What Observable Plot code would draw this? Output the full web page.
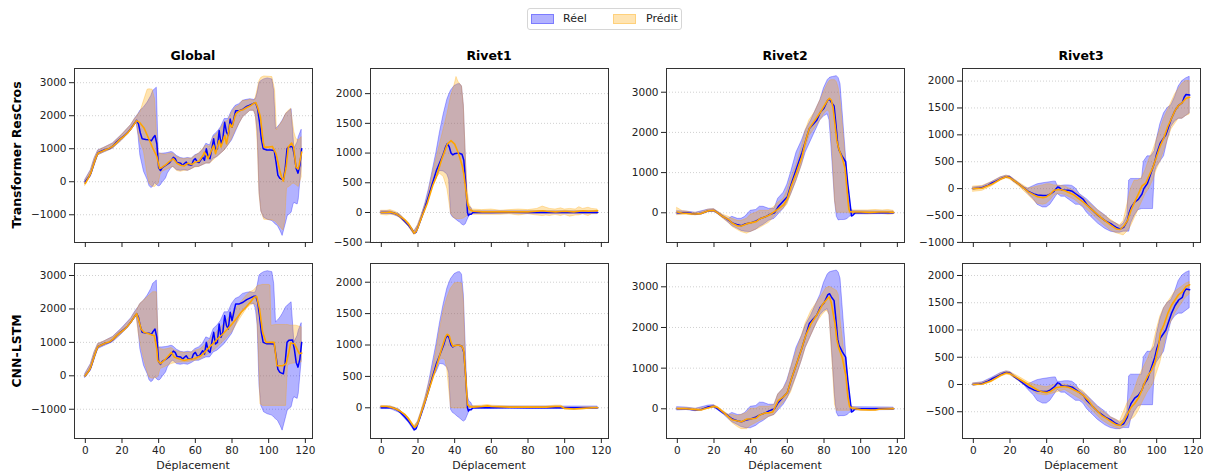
<!DOCTYPE html>
<html><head><meta charset="utf-8">
<script src="https://cdn.jsdelivr.net/npm/d3@7"></script>
<script src="https://cdn.jsdelivr.net/npm/@observablehq/plot@0.6"></script>
<style>
body{margin:0;background:#fff;font-family:"DejaVu Sans",sans-serif;}
#fig{position:relative;width:1208px;height:474px;background:#fff;overflow:hidden;}
.abs{position:absolute;}
.title{font-weight:bold;font-size:12.5px;text-align:center;color:#000;}
.rowlab{font-weight:bold;font-size:12.5px;text-align:center;color:#000;width:220px;line-height:16px;transform:rotate(-90deg);}
.xlab{font-size:11px;text-align:center;color:#222;}
#legend{left:527px;top:8px;width:155px;height:22px;box-sizing:border-box;border:1px solid #d6d6d6;border-radius:3px;font-size:11px;color:#222;}
.sw{position:absolute;top:5px;width:23px;height:10px;box-sizing:border-box;}
</style></head>
<body><div id="fig"></div>
<script>
// ---------- data ----------
const columns = ["Global","Rivet1","Rivet2","Rivet3"];
const models = ["Transformer ResCros","CNN-LSTM"];
const xTicks = [0,20,40,60,80,100,120];
const yTickCandidates = [
  [-1000,0,1000,2000,3000],
  [-500,0,500,1000,1500,2000],
  [0,1000,2000,3000],
  [-1000,-500,0,500,1000,1500,2000]
];
const legendLabels = ["Réel","Prédit"];

// Global
const realMeanGlobal = [[0,0],[2,150],[3,250],[4,420],[5,600],[6,750],[7,880],[9,930],[11,980],[13,1000],[15,1080],[17,1200],[19,1300],[21,1380],[23,1480],[25,1620],[27,1780],[28,1860],[29,1750],[30,1480],[31,1300],[33,1280],[35,1270],[36,1240],[37,1330],[38,1400],[39,1150],[40,420],[41,340],[42,430],[44,500],[46,580],[48,740],[49,700],[50,580],[52,560],[53,500],[55,600],[56,520],[58,500],[59,650],[60,700],[61,600],[62,580],[64,750],[65,650],[66,1000],[67,750],[68,700],[69,1000],[70,1300],[71,950],[72,1000],[73,1550],[74,1150],[75,1300],[76,1800],[77,1500],[78,1400],[79,1900],[80,1650],[81,1900],[82,2150],[84,2150],[86,2200],[88,2280],[90,2330],[92,2380],[93,2380],[94,2200],[95,1800],[96,1300],[97,1000],[99,960],[101,960],[103,950],[104,600],[105,200],[106,110],[107,80],[108,60],[109,400],[110,1000],[111,1060],[113,1070],[114,800],[115,400],[116,260],[117,500],[118,1000]];
const realBandGlobal = [[0,-60,60],[3,150,350],[5,480,700],[7,800,950],[10,880,1020],[15,1000,1160],[20,1250,1420],[25,1550,1720],[27,1720,1900],[28,1780,1980],[29,1400,2050],[30,800,2150],[31,550,2200],[32,300,2250],[34,50,2400],[35,-130,2500],[36,-190,2600],[37,-150,2750],[38,-40,2800],[39,-100,2850],[40,-140,830],[41,-120,850],[42,-40,850],[44,100,860],[45,250,870],[47,420,900],[48,450,880],[50,350,780],[52,330,720],[54,350,700],[56,330,720],[58,380,700],[60,450,800],[62,450,850],[64,500,950],[66,550,1150],[68,550,1100],[70,700,1400],[72,750,1500],[74,850,1650],[76,950,1900],[78,1100,1900],[80,1250,2150],[82,1500,2300],[84,1750,2350],[86,1950,2450],[88,2050,2480],[90,2150,2500],[92,2150,2480],[93,2000,2500],[94,1500,2700],[95,-300,3000],[96,-900,3050],[97.5,-1090,3100],[99.5,-1150,3130],[102,-1190,3100],[103,-1250,2750],[104,-1300,1600],[105,-1340,1650],[106.5,-1500,1750],[107.6,-1640,1850],[109.5,-1240,2050],[110.4,-1040,2100],[112.5,-940,2200],[113.5,-700,1400],[114,-640,1000],[115.8,-690,1200],[116.4,-540,1350],[118,460,1575]];
const predMeanGlobalTR = [[0,-50],[2,150],[3,260],[4,430],[5,600],[6,760],[7,870],[9,920],[11,970],[13,1010],[15,1080],[17,1180],[19,1290],[21,1370],[23,1470],[25,1610],[27,1770],[28,1850],[29.5,1800],[32,1630],[35,1250],[36.7,1030],[39,770],[40.5,400],[42,440],[44,520],[46,620],[48,700],[50,560],[52,500],[54,480],[56,560],[58,520],[60,600],[62,620],[64,780],[65,900],[67,700],[69,980],[70,1100],[71,850],[73,1250],[74,1050],[76,1400],[77,1150],[79,1750],[80,1650],[82,2050],[84,2150],[86,2180],[88,2250],[90,2300],[92,2380],[93,2400],[94,2250],[95.5,1960],[97,1200],[97.6,1050],[100,1050],[102,1070],[104,850],[105,600],[106,350],[107,150],[108,20],[109.5,440],[110.7,1050],[112.5,1170],[113.6,1050],[114.9,440],[116.2,390],[118,900]];
const predBandGlobalTR = [[0,-120,40],[3,180,330],[5,500,700],[7,800,940],[10,880,1020],[15,1000,1150],[20,1250,1420],[25,1550,1720],[27,1720,1900],[28,1780,1960],[29,1450,2050],[30,1200,2100],[32,900,2450],[34,200,2790],[35,-60,2800],[36.7,-150,2790],[38,-160,2500],[39,-100,1500],[40,-60,900],[41,200,850],[42,300,830],[44,350,820],[46,400,850],[48,450,850],[50,330,750],[52,300,700],[54,330,680],[56,330,700],[58,380,700],[60,430,780],[62,450,850],[64,500,980],[66,550,1100],[68,550,1050],[70,650,1350],[72,750,1450],[74,850,1600],[76,950,1800],[78,1100,1850],[80,1300,2100],[82,1550,2250],[84,1750,2300],[86,1950,2450],[88,2050,2450],[90,2150,2480],[92,2150,2450],[93,2000,2550],[94,1200,2800],[95,-400,3050],[96,-900,3150],[97.6,-1150,3190],[100,-1160,3180],[102,-1170,3170],[103.5,-1200,2770],[104.5,-1250,1555],[106,-1350,1700],[108,-1475,1860],[109,-1200,2000],[110,-200,2100],[112.2,-120,2212],[113,-60,1900],[114,-60,1500],[115,-100,1300],[116.4,-160,1250],[118,140,1350]];
const predMeanGlobalCNN = [[0,0],[2,150],[3,260],[4,430],[5,600],[6,760],[7,880],[9,930],[11,980],[13,1010],[15,1090],[17,1200],[19,1290],[21,1370],[23,1480],[25,1620],[27,1780],[28,1860],[29,1700],[30.4,1400],[32,1300],[35,1250],[37.6,1200],[39,800],[39.5,460],[41,360],[43,460],[45,580],[47,700],[48.5,560],[51,510],[54,460],[56,490],[59.5,510],[63,600],[65,700],[67.6,860],[70,980],[72,1100],[75,1250],[77.6,1400],[80,1550],[83,1750],[85,1900],[87.6,2050],[90,2200],[92,2350],[93.5,2370],[95,2000],[96.7,1300],[98.5,1000],[103,1000],[104.5,300],[107.6,300],[109.5,360],[111,700],[112,980],[114,960],[115.5,800],[116.7,660],[118,680]];
const predBandGlobalCNN = [[0,-40,40],[3,180,330],[5,500,700],[7,820,950],[10,900,1020],[15,1020,1150],[20,1260,1400],[25,1560,1700],[27,1730,1880],[28,1780,1950],[29,1300,2050],[30,1000,2150],[32,500,2250],[34,100,2350],[35,-50,2400],[37,-90,2500],[39,-60,2500],[39.5,-40,1800],[40,0,900],[41,200,800],[43,250,780],[45,300,800],[47,350,830],[49,380,750],[52,400,700],[55,400,680],[58,430,700],[60,450,750],[63,500,800],[66,600,950],[70,750,1200],[75,1000,1500],[80,1300,1850],[85,1750,2200],[88,2000,2400],[90,2100,2500],[92,2150,2550],[93.5,2100,2650],[94.5,1000,2700],[95.5,-850,2700],[97,-900,2720],[100,-900,2720],[101,-900,2700],[101.5,-900,1500],[104,-900,1520],[107,-900,1520],[109.5,-900,1520],[110.5,300,1520],[112,350,1500],[115,380,1500],[118,400,1450]];

// Rivet1
const realMeanR1 = [[0,0],[5,0],[7,-10],[9,-40],[11,-90],[13,-150],[15,-220],[17,-300],[18,-350],[19,-330],[20,-250],[22,-80],[24,100],[26,300],[28,500],[30,700],[32,850],[34,1000],[35,1100],[36,1160],[37,1110],[38,1000],[39,970],[40,990],[42,1000],[44,980],[45,880],[46,500],[47,0],[47.5,-50],[48,-30],[49,-30],[50,0],[52,5],[60,0],[70,5],[80,0],[90,5],[100,0],[110,0],[118,0]];
const realBandR1 = [[0,-20,20],[5,-20,20],[10,-80,-30],[15,-240,-190],[18,-370,-320],[20,-280,-220],[22,-110,-50],[24,70,150],[26,250,400],[28,480,700],[30,560,1000],[32,700,1350],[34,690,1650],[36,640,1900],[37,550,1980],[38,-30,2050],[39,-80,2090],[40,-100,2130],[42,-150,2160],[43,-170,2160],[44,-200,2120],[45,-220,1800],[46,-200,1000],[47,-130,200],[48,-60,100],[49,-30,80],[50,-20,20],[118,-20,20]];
const predMeanR1TR = [[0,0],[3,0],[5,10],[8,-20],[10,-60],[13,-130],[15,-200],[17,-300],[18,-350],[19,-320],[20,-250],[22,-80],[25,150],[28,450],[30,600],[33,900],[36,1150],[38,1210],[40,1150],[42,1000],[44,800],[45,650],[46,400],[47,150],[48,50],[50,20],[55,10],[60,10],[70,10],[80,10],[88,30],[90,20],[95,10],[100,20],[105,10],[110,30],[113,20],[118,30]];
const predBandR1TR = [[0,-40,30],[3,-50,30],[5,-40,40],[8,-50,10],[10,-90,-30],[15,-240,-170],[18,-380,-320],[20,-290,-210],[22,-120,-40],[25,100,220],[28,450,650],[30,580,900],[32,650,1150],[34,600,1400],[36,400,1650],[37,200,1800],[38,-20,1950],[40,-100,2150],[41,-110,2280],[42,-110,2200],[44,-110,2120],[45,-100,1800],[46,-80,1000],[47,-60,400],[48,-40,150],[49,-30,80],[50,-40,50],[55,-40,40],[60,-40,50],[65,-40,30],[70,-30,40],[75,-50,50],[80,-30,40],[85,-50,60],[88,-60,100],[90,-50,80],[92,-60,60],[95,-40,50],[98,-60,70],[100,-40,50],[103,-70,60],[106,-50,50],[108,-50,90],[110,-30,60],[113,-60,80],[115,-30,60],[118,-30,50]];
const predMeanR1CNN = [[0,20],[3,20],[5,10],[8,-20],[10,-50],[13,-110],[15,-180],[17,-270],[18,-310],[19,-290],[20,-240],[22,-60],[25,200],[28,470],[30,650],[33,950],[35,1130],[36,1170],[37,1150],[38,1050],[39,980],[40,990],[42,1000],[44,980],[45,900],[46,500],[47,50],[48,20],[50,10],[55,20],[58,30],[60,20],[70,10],[80,10],[90,10],[95,20],[98,20],[100,-10],[105,-20],[110,-10],[115,0],[118,0]];
const predBandR1CNN = [[0,0,30],[5,0,25],[8,-35,-5],[10,-65,-35],[15,-200,-160],[18,-330,-290],[20,-260,-220],[22,-80,-40],[25,180,260],[28,500,600],[30,650,900],[32,750,1250],[33,780,1400],[34,780,1550],[35,750,1650],[36,600,1750],[37,300,1830],[38,0,1900],[40,-10,1980],[42,-10,1990],[44,-10,1980],[45,-10,1700],[46,-10,800],[47,-10,60],[48,0,40],[50,0,25],[55,5,35],[58,15,45],[60,5,35],[70,0,20],[80,0,20],[90,0,20],[95,5,35],[98,5,35],[100,-25,5],[105,-35,-5],[110,-25,5],[115,-10,10],[118,-10,10]];

// Rivet2
const realMeanR2 = [[0,0],[5,0],[8,-20],[10,-30],[13,-20],[17,50],[20,60],[22,0],[25,-100],[27,-150],[30,-250],[33,-300],[35,-320],[37,-280],[40,-250],[43,-200],[45,-150],[48,-100],[50,-50],[53,0],[55,150],[58,300],[60,400],[62,700],[65,1100],[68,1500],[70,1800],[72,2100],[74,2200],[76,2300],[78,2500],[80,2600],[82,2800],[83,2830],[84,2750],[85.5,2660],[86.5,2200],[87.5,1700],[88.2,1560],[90,1400],[91.8,1270],[93,700],[94.5,120],[95,-80],[96,-50],[97,0],[100,0],[110,0],[118,0]];
const realBandR2 = [[0,-40,40],[5,-30,30],[10,-60,0],[17,20,80],[20,30,90],[22,-30,30],[25,-130,-70],[28,-250,-150],[30,-330,-100],[33,-400,-150],[35,-450,-150],[37,-470,-100],[40,-480,50],[43,-420,70],[45,-350,150],[47,-300,150],[50,-200,100],[53,-150,100],[55,-50,350],[58,100,500],[60,250,700],[62,450,1000],[65,800,1500],[68,1200,1800],[70,1500,2050],[73,1800,2300],[76,2100,2600],[78,2300,2800],[80,2400,3100],[82,2450,3300],[83,2300,3350],[84,1700,3370],[85,1000,3380],[86,300,3390],[87,-100,3400],[88,-190,3350],[89,-180,3200],[90,-180,2600],[91,-180,2000],[92,-170,1400],[93,-150,700],[94,-100,200],[95,-80,60],[96,-40,40],[118,-30,30]];
const predMeanR2TR = [[0,20],[3,-10],[5,-10],[8,-30],[10,-30],[13,-20],[17,50],[20,60],[22,0],[25,-100],[28,-170],[30,-260],[33,-330],[35,-330],[38,-270],[40,-250],[43,-220],[45,-150],[48,-100],[50,-60],[53,30],[55,100],[58,200],[60,350],[62,650],[65,1000],[68,1400],[70,1800],[72,2100],[75,2300],[78,2500],[80,2650],[82,2800],[83,2850],[84,2800],[85,2600],[86,2200],[87,1800],[88,1600],[90,1350],[91.5,1100],[92.5,600],[93.5,100],[94,30],[96,20],[100,20],[105,10],[110,20],[115,20],[118,10]];
const predBandR2TR = [[0,-60,120],[3,-50,40],[5,-50,30],[8,-60,0],[10,-60,0],[13,-50,10],[17,20,80],[20,30,90],[22,-30,30],[25,-150,-50],[28,-250,-100],[30,-350,-150],[33,-430,-200],[35,-480,-200],[38,-520,-150],[40,-480,-50],[43,-420,0],[45,-380,50],[48,-300,50],[50,-250,50],[53,-100,150],[55,0,250],[58,100,350],[60,200,550],[62,450,850],[65,800,1200],[68,1200,1650],[70,1600,2050],[72,1900,2300],[75,2100,2500],[78,2300,2800],[80,2450,3000],[82,2550,3200],[83,2500,3270],[84,2000,3300],[85,1200,3300],[86,300,3300],[87,0,3250],[88,0,3100],[89,0,2800],[90,0,2300],[91,0,1800],[92,0,1200],[93,0,500],[94,-20,100],[96,-30,60],[100,-30,60],[104,-40,60],[108,-30,70],[112,-30,60],[115,-50,70],[118,-40,50]];
const predMeanR2CNN = [[0,0],[5,0],[10,-20],[13,-30],[15,0],[20,60],[22,30],[25,-80],[28,-200],[30,-270],[33,-300],[35,-320],[38,-250],[40,-250],[43,-230],[45,-150],[48,-100],[50,-100],[52,-80],[55,200],[58,300],[60,400],[62,700],[65,1100],[68,1500],[70,1800],[73,2100],[76,2300],[79,2550],[82,2720],[83,2750],[84,2600],[86,2100],[87,1700],[88,1500],[90,1250],[92,800],[93,300],[94,50],[95,20],[97,0],[100,-20],[105,-30],[108,-30],[110,-10],[118,0]];
const predBandR2CNN = [[0,-20,20],[5,-20,20],[10,-40,0],[15,-20,20],[20,40,80],[22,10,50],[25,-110,-50],[28,-250,-150],[30,-350,-150],[33,-450,-180],[35,-500,-150],[38,-500,-100],[40,-420,0],[43,-350,0],[45,-300,50],[48,-250,50],[50,-200,50],[53,-150,100],[55,0,350],[58,150,500],[60,250,650],[62,400,1000],[65,800,1400],[68,1200,1800],[70,1500,2100],[73,1800,2400],[76,2100,2600],[79,2300,2800],[81,2400,2950],[82,2400,2980],[83,2300,3000],[84,1600,2980],[85,900,2950],[86,100,2930],[87,-50,2900],[88,-50,2800],[89,-50,2200],[90,-50,1800],[92,-50,1000],[93,-50,400],[94,-50,100],[95,-30,50],[100,-40,0],[105,-50,-10],[110,-30,10],[118,-20,20]];

// Rivet3
const realMeanR3 = [[0,0],[3,10],[5,20],[8,60],[10,100],[13,150],[16,200],[18,220],[20,210],[22,150],[25,80],[28,0],[30,-50],[33,-100],[35,-120],[38,-130],[40,-130],[42,-100],[44,-50],[46,30],[47,20],[48,-20],[50,-30],[52,-30],[54,-50],[56,-100],[58,-150],[60,-200],[62,-300],[65,-400],[68,-500],[70,-550],[72,-600],[75,-650],[77,-700],[78,-720],[80,-750],[82,-720],[84,-600],[85,-450],[86,-350],[88,-250],[90,-200],[92,-100],[93,0],[95,100],[97,300],[99,500],[100,650],[101,750],[102,850],[104,950],[105,1000],[106,1100],[108,1300],[110,1450],[112,1550],[114,1600],[115,1700],[116,1750],[118,1740]];
const realBandR3 = [[0,-20,20],[5,0,40],[10,80,120],[15,170,210],[18,200,240],[20,190,230],[25,60,100],[28,-20,20],[30,-100,0],[33,-200,50],[35,-300,80],[38,-350,100],[40,-350,110],[42,-300,120],[44,-200,130],[45,-150,130],[46,-100,50],[48,-150,50],[50,-150,60],[52,-200,60],[54,-250,50],[56,-300,0],[58,-300,-100],[60,-350,-150],[62,-450,-200],[65,-550,-300],[68,-650,-400],[70,-700,-450],[72,-750,-500],[75,-800,-600],[78,-820,-650],[80,-820,-700],[82,-800,-650],[84,-800,-500],[85,-800,150],[86,-650,180],[88,-500,180],[90,-400,180],[92,-380,180],[93,-380,500],[95,-380,600],[97,-380,600],[98,-380,650],[99,300,700],[100,400,900],[102,500,1200],[104,600,1400],[106,900,1500],[108,1150,1550],[110,1250,1700],[112,1300,1900],[114,1300,2000],[116,1350,2050],[118,1400,2080]];
const predMeanR3TR = [[0,0],[5,10],[10,80],[15,180],[18,220],[20,200],[25,80],[30,-60],[35,-150],[38,-170],[40,-150],[42,-100],[44,-30],[46,-20],[48,-20],[50,-40],[55,-120],[58,-200],[60,-250],[65,-400],[70,-550],[75,-680],[78,-750],[80,-760],[82,-700],[84,-600],[86,-400],[88,-250],[90,-100],[92,50],[94,100],[96,250],[98,400],[100,600],[102,800],[104,950],[106,1150],[108,1300],[110,1450],[112,1550],[114,1600],[116,1680],[118,1700]];
const predBandR3TR = [[0,-60,40],[5,-40,50],[10,40,120],[15,150,210],[18,190,240],[20,170,230],[25,40,110],[30,-120,0],[33,-220,20],[35,-280,40],[38,-300,60],[40,-280,80],[42,-220,80],[44,-130,60],[46,-100,60],[48,-100,50],[50,-120,40],[55,-200,-40],[58,-280,-120],[60,-330,-170],[65,-480,-320],[70,-640,-460],[75,-780,-580],[78,-830,-650],[80,-850,-680],[82,-870,-600],[84,-800,-300],[86,-700,0],[88,-550,150],[90,-400,150],[92,-250,200],[94,-100,350],[96,0,550],[98,150,700],[100,350,900],[102,500,1100],[104,700,1300],[106,900,1450],[108,1100,1600],[110,1200,1750],[112,1300,1850],[114,1300,1950],[116,1350,2000],[118,1380,2000]];
const predMeanR3CNN = [[0,0],[5,10],[10,70],[15,170],[18,210],[20,200],[25,100],[30,0],[35,-100],[38,-140],[40,-150],[42,-130],[45,-60],[48,-40],[50,-40],[52,-50],[55,-100],[58,-150],[60,-200],[63,-300],[65,-400],[68,-500],[70,-570],[73,-630],[75,-680],[78,-740],[80,-750],[82,-680],[84,-550],[86,-420],[88,-350],[90,-250],[92,-100],[93,0],[95,150],[97,250],[99,400],[100,550],[101,700],[102,950],[104,1100],[106,1300],[108,1450],[110,1550],[112,1650],[114,1700],[116,1800],[118,1830]];
const predBandR3CNN = [[0,-20,20],[5,-10,30],[10,40,100],[15,140,200],[18,180,240],[20,170,230],[25,60,140],[30,-60,40],[35,-180,-20],[40,-200,-50],[45,-150,0],[50,-100,0],[55,-200,-40],[60,-300,-120],[65,-480,-320],[70,-650,-480],[75,-760,-600],[80,-820,-680],[84,-750,-350],[86,-650,-250],[88,-600,-100],[90,-500,100],[92,-350,250],[95,-150,450],[98,0,700],[100,200,1000],[102,400,1250],[104,700,1400],[106,1000,1500],[108,1150,1600],[110,1300,1700],[112,1400,1750],[114,1500,1800],[116,1600,1850],[118,1650,1880]];

// ---------- assembly ----------
const realByCol = [[realMeanGlobal, realBandGlobal],[realMeanR1, realBandR1],[realMeanR2, realBandR2],[realMeanR3, realBandR3]];
const predByRow = [
  [[predMeanGlobalTR, predBandGlobalTR],[predMeanR1TR, predBandR1TR],[predMeanR2TR, predBandR2TR],[predMeanR3TR, predBandR3TR]],
  [[predMeanGlobalCNN, predBandGlobalCNN],[predMeanR1CNN, predBandR1CNN],[predMeanR2CNN, predBandR2CNN],[predMeanR3CNN, predBandR3CNN]]
];

// layout (not data)
const colLeft = [74, 370, 666, 962];
const rowTop = [68, 263];
const rowH = [174, 175];
const frameW = 238;
const yDomains = [
  [[-1840,3430],[-505,2423],[-739,3590],[-1002,2234]],
  [[-1875,3359],[-489,2298],[-730,3573],[-991,2220]]
];
const xDomain = [-5.9, 123.9];
const BLUE = "#0000ff", ORANGE = "#ffa500";
const fmt = d => (d < 0 ? "\u2212" + Math.abs(d) : String(d));

const fig = document.getElementById("fig");
const ML = 52, MR = 6, MT = 6, MB = 26;

function addDiv(cls, text, style) {
  const d = document.createElement("div");
  d.className = "abs " + cls;
  d.textContent = text;
  Object.assign(d.style, style);
  fig.appendChild(d);
  return d;
}

for (let r = 0; r < 2; r++) {
  for (let c = 0; c < 4; c++) {
    const [rm, rb] = realByCol[c];
    const [pm, pb] = predByRow[r][c];
    const dom = yDomains[r][c];
    const ticks = yTickCandidates[c].filter(t => t >= dom[0] - 0.5 && t <= dom[1]);
    const gridTicks = ticks.filter(t => t >= dom[0]);
    const showX = r === 1;
    const chart = Plot.plot({
      width: ML + frameW + MR,
      height: MT + rowH[r] + MB,
      marginLeft: ML, marginRight: MR, marginTop: MT, marginBottom: MB,
      style: {fontFamily: "'DejaVu Sans', sans-serif", fontSize: "10.5px", color: "#222", background: "transparent", overflow: "visible"},
      x: {domain: xDomain},
      y: {domain: dom},
      marks: [
        Plot.ruleY(gridTicks, {stroke: "#c4c4c4", strokeWidth: 0.8, strokeDasharray: "1,2"}),
        Plot.areaY(rb, {x: d => d[0], y1: d => d[1], y2: d => d[2], fill: BLUE, fillOpacity: 0.3, stroke: BLUE, strokeOpacity: 0.3, strokeWidth: 1}),
        Plot.areaY(pb, {x: d => d[0], y1: d => d[1], y2: d => d[2], fill: ORANGE, fillOpacity: 0.3, stroke: ORANGE, strokeOpacity: 0.3, strokeWidth: 1}),
        Plot.lineY(rm, {x: d => d[0], y: d => d[1], stroke: BLUE, strokeWidth: 1.5}),
        Plot.lineY(pm, {x: d => d[0], y: d => d[1], stroke: ORANGE, strokeWidth: 1.6}),
        Plot.frame({stroke: "#333", strokeWidth: 1}),
        Plot.axisX({ticks: xTicks, tickSize: 5, tickPadding: 3, tickFormat: showX ? fmt : () => "", label: null}),
        Plot.axisY({ticks: ticks, tickSize: 5, tickPadding: 3, tickFormat: fmt, label: null})
      ]
    });
    chart.style.position = "absolute";
    chart.style.left = (colLeft[c] - ML) + "px";
    chart.style.top = (rowTop[r] - MT) + "px";
    fig.appendChild(chart);
    if (r === 0) addDiv("title", columns[c], {left: colLeft[c] + "px", top: "48px", width: frameW + "px"});
    if (r === 1) addDiv("xlab", "Déplacement", {left: colLeft[c] + "px", top: "459px", width: frameW + "px"});
  }
  addDiv("rowlab", models[r], {left: (17 - 110) + "px", top: (rowTop[r] + rowH[r] / 2 - 8) + "px"});
}

// legend
const leg = document.createElement("div");
leg.id = "legend"; leg.className = "abs";
fig.appendChild(leg);
const swatchColors = ["rgba(0,0,255,0.3)", "rgba(255,165,0,0.3)"];
const swLeft = [3, 85], txLeft = [35, 118];
legendLabels.forEach((lab, i) => {
  const s = document.createElement("div");
  s.className = "sw";
  s.style.left = swLeft[i] + "px";
  s.style.background = swatchColors[i];
  s.style.border = "1px solid " + swatchColors[i];
  leg.appendChild(s);
  const t = document.createElement("div");
  t.style.position = "absolute"; t.style.left = txLeft[i] + "px"; t.style.top = "3px";
  t.textContent = lab;
  leg.appendChild(t);
});
</script></body></html>
